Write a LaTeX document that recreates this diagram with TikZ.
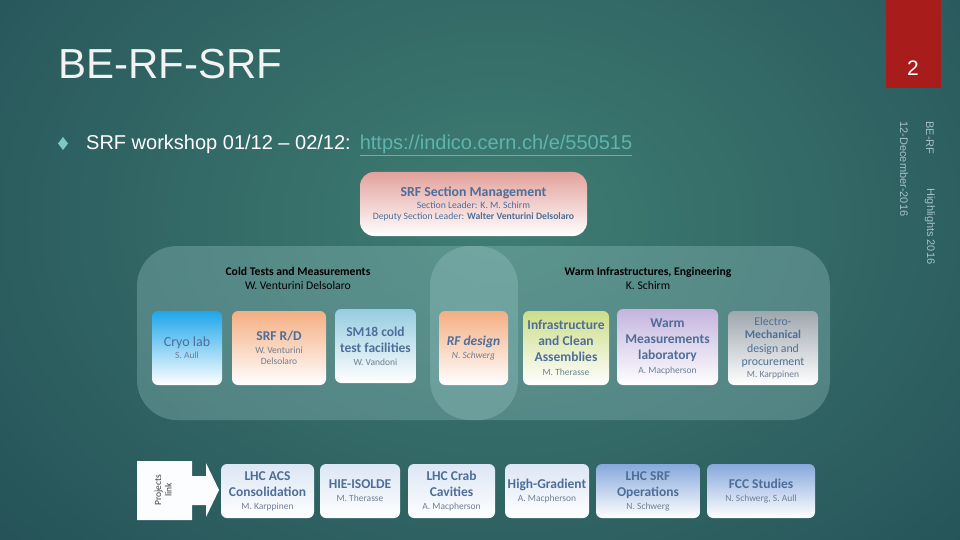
\documentclass[tikz,border=0pt]{standalone}
\usepackage{xcolor}
\usepackage{fontspec}
\setmainfont{Carlito}
\newfontfamily\arialfont{Liberation Sans}
\usepackage{tikz}
\usetikzlibrary{positioning}
\definecolor{bgdark}{HTML}{123344}
\definecolor{bgmid}{HTML}{3F7D73}
\definecolor{tabred}{HTML}{A81C1C}
\definecolor{boxtext}{HTML}{4E6E99}
\definecolor{nametext}{HTML}{6E7F95}
\definecolor{linkc}{HTML}{5DB5AE}
\definecolor{bulletc}{HTML}{7FC6C8}
\definecolor{sidetext}{HTML}{A9BFC9}
\definecolor{mgmtc}{HTML}{E3A19C}
\definecolor{cryoc}{HTML}{1EA6EA}
\definecolor{orangec}{HTML}{F5AE82}
\definecolor{smc}{HTML}{96CCE0}
\definecolor{greenc}{HTML}{CCDD88}
\definecolor{lavc}{HTML}{C4B4DE}
\definecolor{greyc}{HTML}{9EA6AE}
\definecolor{projc}{HTML}{DCE6F4}
\definecolor{bluec}{HTML}{86A8DC}
\definecolor{groupc}{HTML}{A2CFCF}
\newcommand{\pname}[1]{{\fontsize{9.5}{11}\selectfont\mdseries\color{nametext}#1}}

\begin{document}
\begin{tikzpicture}[x=1pt, y=-1pt,
			unit/.style={rounded corners=6pt, top color=#1, bottom color=white,
				align=center, text=boxtext, inner sep=0pt,
				font=\fontsize{13.5}{16}\selectfont\bfseries},
			group/.style={rounded corners=40pt, fill=groupc, fill opacity=0.3,
				inner sep=0pt},
			head/.style={align=center, font=\fontsize{11.7}{14}\selectfont},
			side/.style={rotate=-90, anchor=west, text=sidetext,
				font=\arialfont\fontsize{11}{13}\selectfont}]
		\useasboundingbox (0,0) rectangle (960,540);
		\fill[bgdark] (0,0) rectangle (960,540);
		\begin{scope}
			\clip (0,0) rectangle (960,540);
			\shade[inner color=bgmid, outer color=bgdark] (500,220) ellipse (1150 and 850);
		\end{scope}

		\fill[tabred] (886,0) rectangle (941,88);
		\node[anchor=base, text=white, font=\arialfont\fontsize{21}{24}\selectfont] (page) at (913,76) {2};
		\node[side] (dept) at (930,118) {BE-RF};
		\node[side] (hl) at (930,185) {Highlights 2016};
		\node[side] (date) at (904,118) {12-December-2016};

		\node[anchor=base west, inner sep=0pt, text=white!95!black,
			font=\arialfont\fontsize{42}{48}\selectfont] (title) at (58,79) {BE-RF-SRF};
		\fill[bulletc] (63,137) -- (68,143.5) -- (63,150) -- (58,143.5) -- cycle;
		\node[anchor=base west, inner sep=0pt, text=white,
			font=\arialfont\fontsize{20}{24}\selectfont] (ws) at (86,150)
			{SRF workshop 01/12 – 02/12:\hspace{9pt}\textcolor{linkc}{\underline{https://indico.cern.ch/e/550515}}};

		\node[unit=mgmtc, rounded corners=14pt, minimum width=227, minimum height=64,
			font=\fontsize{9.7}{11}\selectfont] (mgmt) at (473.5,204)
			{{\fontsize{13.8}{15}\selectfont\bfseries SRF Section Management}\\[1pt]
			Section Leader: K. M. Schirm\\Deputy Section Leader: \textbf{Walter Venturini Delsolaro}};

		\node[group, minimum width=381, minimum height=174] (cold) at (327.5,333) {};
		\node[group, minimum width=400, minimum height=174] (warm) at (630,333) {};
		\node[head] (coldhead) at (298,278) {\textbf{Cold Tests and Measurements}\\W. Venturini Delsolaro};
		\node[head] (warmhead) at (648,278) {\textbf{Warm Infrastructures, Engineering}\\K. Schirm};

		\node[unit=cryoc, minimum width=70, minimum height=74] (cryo) at (187,348)
			{{\mdseries\fontsize{14}{15}\selectfont Cryo lab}\\[-4pt]\pname{S. Aull}};
		\node[unit=orangec, minimum width=94, minimum height=74] (srfrd) at (279,348)
			{SRF R/D\\[-3pt]\pname{W. Venturini}\\[-5pt]\pname{Delsolaro}};
		\node[unit=smc, minimum width=81, minimum height=74] (sm18) at (375.5,346)
			{SM18 cold\\test facilities\\[-3pt]\pname{W. Vandoni}};
		\node[unit=orangec, minimum width=69, minimum height=74] (rfdes) at (473.5,348)
			{\itshape RF design\\[-3pt]\pname{\itshape N. Schwerg}};
		\node[unit=greenc, minimum width=86, minimum height=74] (infra) at (566,348)
			{Infrastructure\\and Clean\\Assemblies\\[-2pt]\pname{M. Therasse}};
		\node[unit=lavc, minimum width=101, minimum height=76] (wml) at (667.5,347)
			{Warm\\Measurements\\laboratory\\[-2pt]\pname{A. Macpherson}};
		\node[unit=greyc, minimum width=90, minimum height=74,
			font=\fontsize{11.8}{13.5}\selectfont] (emech) at (773,348)
			{Electro-\\\textbf{Mechanical}\\design and\\procurement\\[-2pt]\pname{M. Karppinen}};

		\fill[white!92!projc] (137,461) -- (192,461) -- (192,476) -- (206,476) -- (206,463)
			-- (219,490) -- (206,517) -- (206,505) -- (192,505) -- (192,520) -- (137,520) -- cycle;
		\node[rotate=90, align=center, text=black!75, font=\fontsize{9.5}{10.5}\selectfont]
			(plink) at (163,490) {Projects\\link};

		\node[unit=projc, minimum width=93, minimum height=54] (acs) at (267.5,491)
			{LHC ACS\\Consolidation\\[-3pt]\pname{M. Karppinen}};
		\node[unit=projc, minimum width=80, minimum height=54] (hie) at (360,491)
			{HIE-ISOLDE\\[-3pt]\pname{M. Therasse}};
		\node[unit=projc, minimum width=87, minimum height=54] (crab) at (451.5,491)
			{LHC Crab\\Cavities\\[-3pt]\pname{A. Macpherson}};
		\node[unit=projc, minimum width=84, minimum height=54] (hg) at (547,491)
			{High-Gradient\\[-3pt]\pname{A. Macpherson}};
		\node[unit=bluec, minimum width=104, minimum height=54] (lhcsrf) at (648,491)
			{LHC SRF\\Operations\\[-3pt]\pname{N. Schwerg}};
		\node[unit=bluec, minimum width=108, minimum height=54] (fcc) at (761,491)
			{FCC Studies\\[-3pt]\pname{N. Schwerg, S. Aull}};
	\end{tikzpicture}
\end{document}
